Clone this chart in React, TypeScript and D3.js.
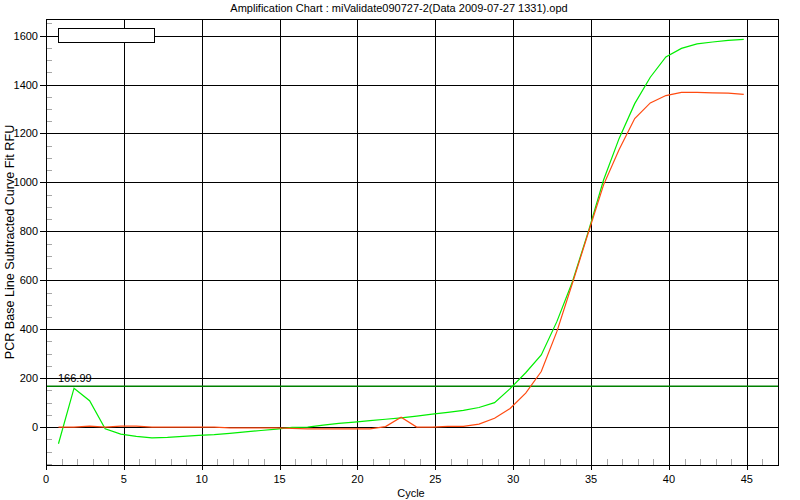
import React from "react";
import * as d3 from "d3";

const TITLE = "Amplification Chart : miValidate090727-2(Data 2009-07-27 1331).opd";
const X_LABEL = "Cycle";
const Y_LABEL = "PCR Base Line Subtracted Curve Fit RFU";

const cycles = [
  1, 2, 3, 4, 5, 6, 7, 8, 9, 10, 11, 12, 13, 14, 15, 16, 17, 18, 19, 20, 21, 22, 23,
  24, 25, 26, 27, 28, 29, 30, 31, 32, 33, 34, 35, 36, 37, 38, 39, 40, 41, 42, 43, 44, 45,
];

const greenValues = [
  -68, 159, 108, -7, -29, -38, -44, -42, -38, -34, -31, -26, -20, -14, -8, -1, 0, 8, 15,
  20, 26, 32, 38, 45, 53, 60, 68, 80, 100, 157, 222, 295, 431, 594, 795, 1010, 1180,
  1322, 1430, 1513, 1548, 1566, 1574, 1581, 1585,
];

const redValues = [
  0, 0, 4, 0, 4, 4, 0, 0, 0, 0, 0, -3, -3, -3, -3, -5, -7, -7, -7, -7, -7, 2, 40, 0, 0,
  3, 3, 12, 36, 76, 139, 227, 390, 588, 790, 990, 1135, 1261, 1325, 1355, 1368, 1368,
  1366, 1365, 1360,
];

const threshold = 166.99;
const thresholdLabel = "166.99";

const xTicks = [0, 5, 10, 15, 20, 25, 30, 35, 40, 45];
const yTicks = [0, 200, 400, 600, 800, 1000, 1200, 1400, 1600];

const X_DOMAIN: [number, number] = [0, 47];
const Y_DOMAIN: [number, number] = [-155, 1668];
const X_SHIFT = -0.2;

export default function App() {
  const left = 46;
  const right = 778;
  const top = 19;
  const bottom = 465;

  const x = d3.scaleLinear().domain(X_DOMAIN).range([left, right]);
  const y = d3.scaleLinear().domain(Y_DOMAIN).range([bottom, top]);

  const minorX = d3.range(1, 47).filter((v) => v % 5 !== 0);
  const minorY = d3.range(-150, 1668, 50).filter((v) => v % 200 !== 0);

  const line = d3
    .line<number>()
    .x((_, i) => x(cycles[i] + X_SHIFT))
    .y((d) => y(d));

  const font = "'Liberation Sans', Arial, sans-serif";
  const px = (v: number) => Math.round(v) + 0.5;

  return (
    <svg
      width={800}
      height={500}
      style={{ position: "absolute", left: 0, top: 0, background: "#fff" }}
      fontFamily={font}
    >
      <rect x={0} y={0} width={800} height={500} fill="#fff" />
      <text x={399} y={12} fontSize={11} textAnchor="middle" fill="#000">
        {TITLE}
      </text>

      {/* minor ticks */}
      <g stroke="#a8a8a8" strokeWidth={1} shapeRendering="crispEdges">
        {minorX.map((v) => (
          <line key={"mx" + v} x1={px(x(v))} x2={px(x(v))} y1={bottom - 6} y2={bottom} />
        ))}
        {minorY.map((v) => (
          <line key={"my" + v} x1={left} x2={left + 6} y1={px(y(v))} y2={px(y(v))} />
        ))}
      </g>

      {/* grid */}
      <g stroke="#000" strokeWidth={1} shapeRendering="crispEdges">
        {xTicks
          .filter((v) => v > 0)
          .map((v) => (
            <line key={"gx" + v} x1={px(x(v))} x2={px(x(v))} y1={top} y2={bottom + 5} />
          ))}
        {yTicks.map((v) => (
          <line key={"gy" + v} x1={left - 6} x2={right} y1={px(y(v))} y2={px(y(v))} />
        ))}
        <line x1={px(x(0))} x2={px(x(0))} y1={bottom} y2={bottom + 5} />
      </g>

      {/* threshold */}
      <line
        x1={left}
        x2={right}
        y1={y(threshold)}
        y2={y(threshold)}
        stroke="#008000"
        strokeWidth={1.5}
      />
      <text x={58} y={y(threshold) - 4} fontSize={11} fill="#000">
        {thresholdLabel}
      </text>

      {/* curves */}
      <path d={line(greenValues) || ""} fill="none" stroke="#00ee00" strokeWidth={1.2} />
      <path d={line(redValues) || ""} fill="none" stroke="#ff4a10" strokeWidth={1.2} />

      {/* border */}
      <rect
        x={left + 0.5}
        y={top + 0.5}
        width={right - left}
        height={bottom - top}
        fill="none"
        stroke="#000"
        strokeWidth={1}
        shapeRendering="crispEdges"
      />

      {/* legend box */}
      <rect
        x={58.5}
        y={28.5}
        width={96}
        height={14}
        fill="#fff"
        stroke="#000"
        strokeWidth={1}
        shapeRendering="crispEdges"
      />

      {/* axis labels */}
      {xTicks.map((v) => (
        <text key={"tx" + v} x={x(v)} y={483} fontSize={11} textAnchor="middle" fill="#000">
          {v}
        </text>
      ))}
      {yTicks.map((v) => (
        <text key={"ty" + v} x={38} y={y(v) + 4} fontSize={11} textAnchor="end" fill="#000">
          {v}
        </text>
      ))}
      <text x={411} y={497} fontSize={11} textAnchor="middle" fill="#000">
        {X_LABEL}
      </text>
      <text
        transform={`translate(14, ${(top + bottom) / 2}) rotate(-90)`}
        fontSize={12.6}
        textAnchor="middle"
        fill="#000"
      >
        {Y_LABEL}
      </text>
    </svg>
  );
}
